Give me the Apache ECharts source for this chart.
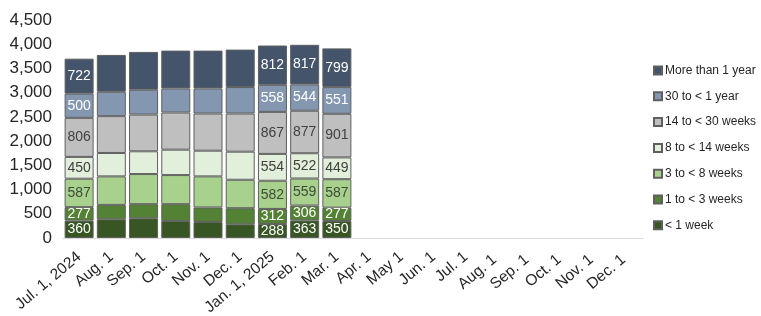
<!DOCTYPE html>
<html>
<head>
<meta charset="utf-8">
<script src="https://cdn.jsdelivr.net/npm/echarts@6/dist/echarts.min.js"></script>
<style>
html,body{margin:0;padding:0;background:#fff;}
#chart{width:761px;height:316px;}
</style>
</head>
<body>
<div id="chart"></div>
<script>
const categories = ['Jul. 1, 2024','Aug. 1','Sep. 1','Oct. 1','Nov. 1','Dec. 1','Jan. 1, 2025','Feb. 1','Mar. 1','Apr. 1','May 1','Jun. 1','Jul. 1','Aug. 1 ','Sep. 1 ','Oct. 1 ','Nov. 1 ','Dec. 1 '];
const lessThan1Week   = [360, 387, 408, 352, 331, 284, 288, 363, 350, null, null, null, null, null, null, null, null, null];
const oneTo3Weeks     = [277, 297, 290, 346, 299, 331, 312, 306, 277, null, null, null, null, null, null, null, null, null];
const threeTo8Weeks   = [587, 588, 622, 601, 642, 587, 582, 559, 587, null, null, null, null, null, null, null, null, null];
const eightTo14Weeks  = [450, 483, 470, 524, 530, 580, 554, 522, 449, null, null, null, null, null, null, null, null, null];
const fourteenTo30Wks = [806, 760, 758, 767, 767, 787, 867, 877, 901, null, null, null, null, null, null, null, null, null];
const thirtyTo1Year   = [500, 503, 512, 497, 518, 547, 558, 544, 551, null, null, null, null, null, null, null, null, null];
const moreThan1Year   = [722, 761, 781, 781, 781, 773, 812, 817, 799, null, null, null, null, null, null, null, null, null];
const labelledBars = [0, 6, 7, 8];
const yTicks = { min: 0, max: 4500, interval: 500 };

const seriesDefs = [
  { name: '< 1 week', data: lessThan1Week, color: '#375623', label: '#ffffff' },
  { name: '1 to < 3 weeks', data: oneTo3Weeks, color: '#548235', label: '#ffffff' },
  { name: '3 to < 8 weeks', data: threeTo8Weeks, color: '#a9d18e', label: '#3d4a38' },
  { name: '8 to < 14 weeks', data: eightTo14Weeks, color: '#e2efda', label: '#404040' },
  { name: '14 to < 30 weeks', data: fourteenTo30Wks, color: '#bfbfbf', label: '#404040' },
  { name: '30 to < 1 year', data: thirtyTo1Year, color: '#8497b0', label: '#ffffff' },
  { name: 'More than 1 year', data: moreThan1Year, color: '#44546a', label: '#ffffff' }
];

const FONT = 'Liberation Sans';

const chart = echarts.init(document.getElementById('chart'), null, { renderer: 'canvas' });
chart.setOption({
  animation: false,
  backgroundColor: '#ffffff',
  grid: { left: 63, right: 118, top: 20, bottom: 78, containLabel: false, outerBoundsMode: 'none' },
  legend: {
    orient: 'vertical',
    left: 653,
    top: 64,
    padding: 0,
    itemWidth: 8,
    itemHeight: 8,
    itemGap: 12.8,
    icon: 'rect',
    data: seriesDefs.map(s => s.name).reverse(),
    textStyle: { fontFamily: FONT, fontSize: 12, lineHeight: 13, color: '#262626', padding: [0, 0, 0, -2] }
  },
  xAxis: {
    type: 'category',
    data: categories,
    axisLine: { show: true, lineStyle: { color: '#d9d9d9', width: 1 } },
    axisTick: { show: false },
    axisLabel: { rotate: 40, interval: 0, fontFamily: FONT, fontSize: 15.5, color: '#262626', margin: 17 }
  },
  yAxis: {
    type: 'value',
    min: yTicks.min,
    max: yTicks.max,
    interval: yTicks.interval,
    axisLine: { show: false },
    axisTick: { show: false },
    splitLine: { show: false },
    axisLabel: {
      fontFamily: FONT, fontSize: 17, color: '#262626', margin: 11,
      formatter: v => v.toLocaleString('en-US')
    }
  },
  series: seriesDefs.map(s => ({
    name: s.name,
    type: 'bar',
    stack: 'total',
    barCategoryGap: '10%',
    itemStyle: { color: s.color, borderColor: '#5f5f5f', borderWidth: 1 },
    label: { show: false },
    data: s.data.map((v, i) => ({
      value: v,
      label: {
        show: labelledBars.includes(i) && v != null,
        position: 'inside',
        color: s.label,
        fontFamily: FONT,
        fontSize: 14
      }
    }))
  }))
});
</script>
</body>
</html>
